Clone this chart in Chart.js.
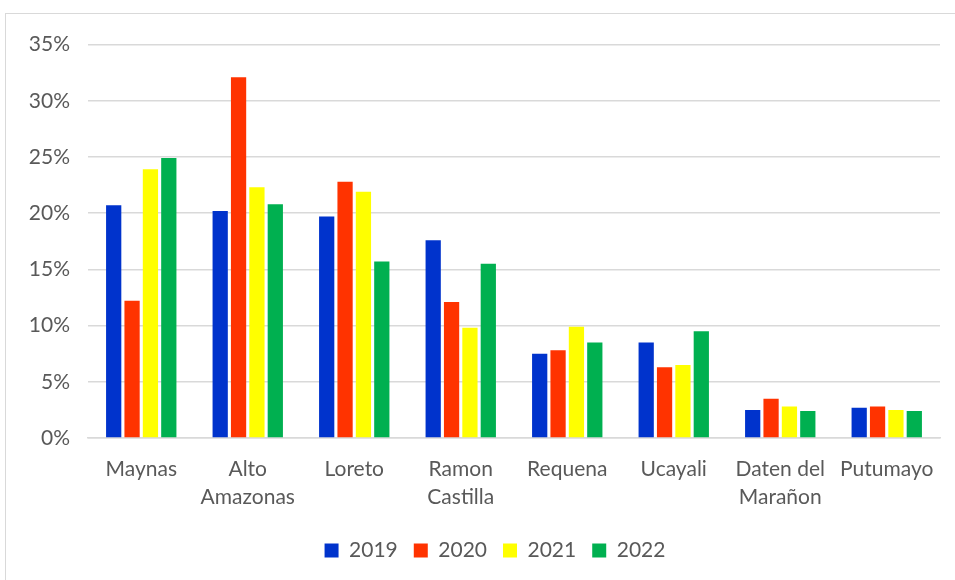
<!DOCTYPE html>
<html lang="es">
<head>
    <meta charset="UTF-8">
    <title>Provincias</title>
    <script src="https://cdn.jsdelivr.net/npm/chart.js"></script>
    <style>
        body {
            margin: 0;
            padding: 0;
            background: #fff;
            font-family: 'Lato', sans-serif;
            overflow: hidden;
        }
        .frame {
            position: absolute;
            left: 5px;
            top: 13px;
            width: 990px;
            height: 580px;
            border: 1px solid #d9d9d9;
            box-sizing: border-box;
        }
        .wrap {
            position: absolute;
            left: 6px;
            top: 14px;
            width: 976px;
            height: 566px;
        }
    </style>
</head>
<body>
    <div class="frame"></div>
    <div class="wrap"><canvas id="barChart"></canvas></div>
    <script>
    const provincias = [
        'Maynas', ['Alto', 'Amazonas'], 'Loreto', ['Ramon', 'Castilla'],
        'Requena', 'Ucayali', ['Daten del', 'Marañon'], 'Putumayo'
    ];
    const anios = ['2019', '2020', '2021', '2022'];
    const colores = ['#0033CC', '#FF3300', '#FFFF00', '#00B050'];

    // porcentajes por año
    const v2019 = [20.7, 20.2, 19.7, 17.6, 7.5, 8.5, 2.5, 2.7];
    const v2020 = [12.2, 32.1, 22.8, 12.1, 7.8, 6.3, 3.5, 2.8];
    const v2021 = [23.9, 22.3, 21.9, 9.8, 9.9, 6.5, 2.8, 2.5];
    const v2022 = [24.9, 20.8, 15.7, 15.5, 8.5, 9.5, 2.4, 2.4];
    const series = [v2019, v2020, v2021, v2022];

    const yMax = 35;
    const yStep = 5;
    const txt = '#595959';
    const fs = 21;

    // la leyenda va centrada un poco más a la derecha que el área del gráfico
    const shiftLegend = {
        id: 'shiftLegend',
        afterLayout(chart) {
            const l = chart.legend;
            l.left += 22;
            l.right += 22;
        }
    };

    const ctx = document.getElementById('barChart').getContext('2d');
    const barChart = new Chart(ctx, {
        type: 'bar',
        data: {
            labels: provincias,
            datasets: anios.map((a, i) => ({
                label: a,
                data: series[i],
                backgroundColor: colores[i],
                borderWidth: 0,
                categoryPercentage: 0.69,
                barPercentage: 0.83
            }))
        },
        options: {
            responsive: true,
            maintainAspectRatio: false,
            animation: false,
            layout: { padding: { top: 29, right: 42, left: 0, bottom: 9 } },
            plugins: {
                legend: {
                    position: 'bottom',
                    labels: {
                        boxWidth: 14,
                        boxHeight: 14,
                        color: txt,
                        font: { family: 'Lato', size: fs },
                        padding: 16
                    }
                },
                tooltip: {
                    callbacks: {
                        label: c => `${c.dataset.label}: ${c.parsed.y}%`
                    }
                }
            },
            scales: {
                x: {
                    grid: { display: false, drawTicks: false },
                    border: { color: '#d9d9d9', width: 1.5 },
                    ticks: {
                        color: txt,
                        font: { family: 'Lato', size: fs, lineHeight: 1.35 },
                        padding: 17,
                        maxRotation: 0,
                        autoSkip: false
                    },
                    afterFit: s => { s.height = 86; }
                },
                y: {
                    min: 0,
                    max: yMax,
                    border: { display: false },
                    grid: { color: '#d9d9d9', lineWidth: 1.5, drawTicks: false },
                    ticks: {
                        stepSize: yStep,
                        color: txt,
                        font: { family: 'Lato', size: fs },
                        padding: 18,
                        callback: v => v + '%'
                    },
                    afterFit: s => { s.width = 82; }
                }
            }
        },
        plugins: [shiftLegend]
    });
    </script>
</body>
</html>
